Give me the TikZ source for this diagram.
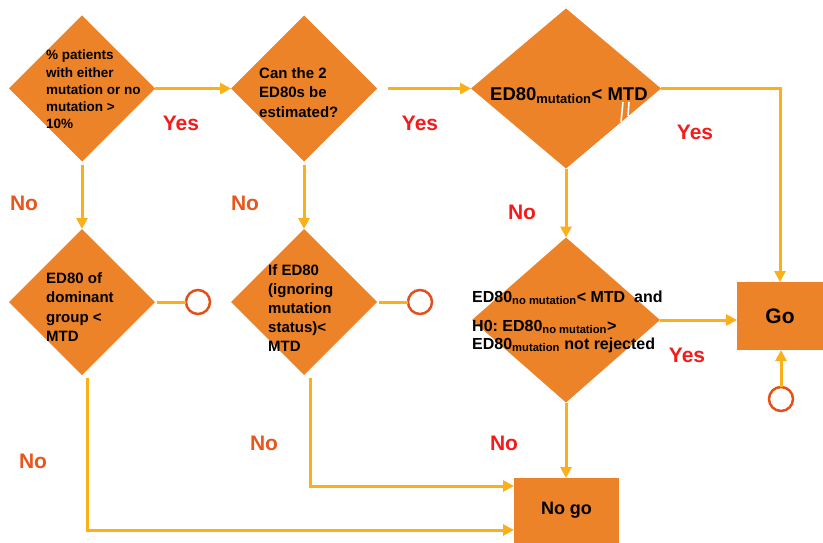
\documentclass[tikz,border=0pt]{standalone}
\usepackage{fontspec}
\setmainfont{Liberation Sans}
\usetikzlibrary{shapes.geometric,arrows.meta}
\definecolor{dfill}{HTML}{EC8329}
\definecolor{conn}{HTML}{FBB01A}
\definecolor{ringc}{HTML}{E2511C}
\definecolor{yesred}{HTML}{F51B1B}
\definecolor{noorange}{HTML}{E8561E}
\frenchspacing
\begin{document}
\begin{tikzpicture}[x=1pt,y=-1pt,
  dia/.style={diamond, fill=dfill, inner sep=0pt, outer sep=0pt},
  boxnode/.style={rectangle, fill=dfill, inner sep=0pt, outer sep=0pt},
  ringnode/.style={circle, draw=ringc, line width=2.5pt, minimum size=24pt, inner sep=0pt, outer sep=0pt},
  arr/.style={draw=conn, line width=3pt, -{Triangle[length=11pt,width=11pt]}},
  ln/.style={draw=conn, line width=3pt},
  dtext/.style={align=left, inner sep=0pt, text=black},
  yeslab/.style={text=yesred, inner sep=0pt, font=\bfseries\fontsize{21}{21}\selectfont},
  nolab/.style={text=noorange, inner sep=0pt, font=\bfseries\fontsize{21}{21}\selectfont},
  noredlab/.style={text=yesred, inner sep=0pt, font=\bfseries\fontsize{21}{21}\selectfont}
]
\useasboundingbox (0,0) rectangle (823,543);

% diamonds
\node[dia, minimum width=146pt, minimum height=146pt] (d1) at (82,88.5) {};
\node[dia, minimum width=146pt, minimum height=146pt] (d2) at (304,88.5) {};
\node[dia, minimum width=190pt, minimum height=160pt] (d3) at (566,88.5) {};
\node[dia, minimum width=146pt, minimum height=146pt] (d4) at (82,302) {};
\node[dia, minimum width=146pt, minimum height=146pt] (d5) at (304,302) {};
\node[dia, minimum width=188pt, minimum height=165pt] (d6) at (566,320) {};

% boxes
\node[boxnode, minimum width=86pt, minimum height=68pt, font=\bfseries\fontsize{21}{21}\selectfont] (go) at (780,316) {Go};
\node[boxnode, minimum width=105pt, minimum height=65pt, font=\bfseries\fontsize{18}{18}\selectfont] (nogo) at (566.5,510.5) {No go};

% rings
\node[ringnode] (c1) at (198,302) {};
\node[ringnode] (c2) at (420,302) {};
\node[ringnode] (c3) at (781,399) {};

% diamond texts
\node[dtext, anchor=west, font=\bfseries\fontsize{13.5}{17.3}\selectfont] (t1) at (46,89.5)
  {\% patients\\with either\\mutation or no\\mutation >\\10\%};
\node[dtext, anchor=west, font=\bfseries\fontsize{15}{19.5}\selectfont] (t2) at (259,92.5)
  {Can the 2\\ED80s be\\estimated?};
\node[dtext, anchor=base west, font=\bfseries\fontsize{18.5}{20}\selectfont] (t3) at (490,100)
  {ED80\textsubscript{mutation}< MTD};
\node[dtext, anchor=west, font=\bfseries\fontsize{15}{19.5}\selectfont] (t4) at (46,307)
  {ED80 of\\dominant\\group <\\MTD};
\node[dtext, anchor=west, font=\bfseries\fontsize{15}{19}\selectfont] (t5) at (268,308)
  {If ED80\\(ignoring\\mutation\\status)<\\MTD};
\node[dtext, anchor=base west, font=\bfseries\fontsize{16}{18}\selectfont] (t6a) at (472,302)
  {ED80\textsubscript{no mutation}< MTD\ \ and};
\node[dtext, anchor=base west, font=\bfseries\fontsize{16}{18}\selectfont] (t6b) at (472,331)
  {H0: ED80\textsubscript{no mutation}>};
\node[dtext, anchor=base west, font=\bfseries\fontsize{16}{18}\selectfont] (t6c) at (472,349)
  {ED80\textsubscript{mutation} not rejected};

% white marks in d3
\draw[white, line width=1.6pt] (623,102) -- (621,122);
\draw[white, line width=1.6pt] (629,102) -- (628,116);

% connectors
\draw[arr] (d1.east) -- (d2.west);
\draw[arr, shorten <=11pt] (d2.east) -- (d2.east -| d3.west);
\draw[arr] (d3.east) -| (go.north);
\draw[arr] (d3.south) -- (d6.north);
\draw[arr] (d6.east) -- (d6.east -| go.west);
\draw[arr] (d6.south) -- (d6.south |- nogo.north);
\draw[arr, shorten <=3pt] (d1.south) -- (d4.north);
\draw[arr, shorten <=3pt] (d2.south) -- (d5.north);
\draw[ln, shorten <=2pt] (d4.east) -- (c1.west);
\draw[ln, shorten <=2pt] (d5.east) -- (c2.west);
\draw[arr] (c3.north) -- (c3.north |- go.south);
\coordinate (b1) at (87,530);
\coordinate (b2) at (310,486);
\draw[arr, shorten <=3pt] (d4.south -| b1) -- (b1) -- (nogo.west |- b1);
\draw[arr, shorten <=3pt] (d5.south -| b2) -- (b2) -- (nogo.west |- b2);

% labels
\node[yeslab] (y1) at (181,123) {Yes};
\node[yeslab] (y2) at (420,123) {Yes};
\node[yeslab] (y3) at (695,132) {Yes};
\node[yeslab] (y4) at (687,355) {Yes};
\node[noredlab] (n5) at (522,212) {No};
\node[noredlab] (n6) at (504,443) {No};
\node[nolab] (n1) at (24,203) {No};
\node[nolab] (n2) at (245,203) {No};
\node[nolab] (n3) at (33,461) {No};
\node[nolab] (n4) at (264,443) {No};
\end{tikzpicture}
\end{document}
